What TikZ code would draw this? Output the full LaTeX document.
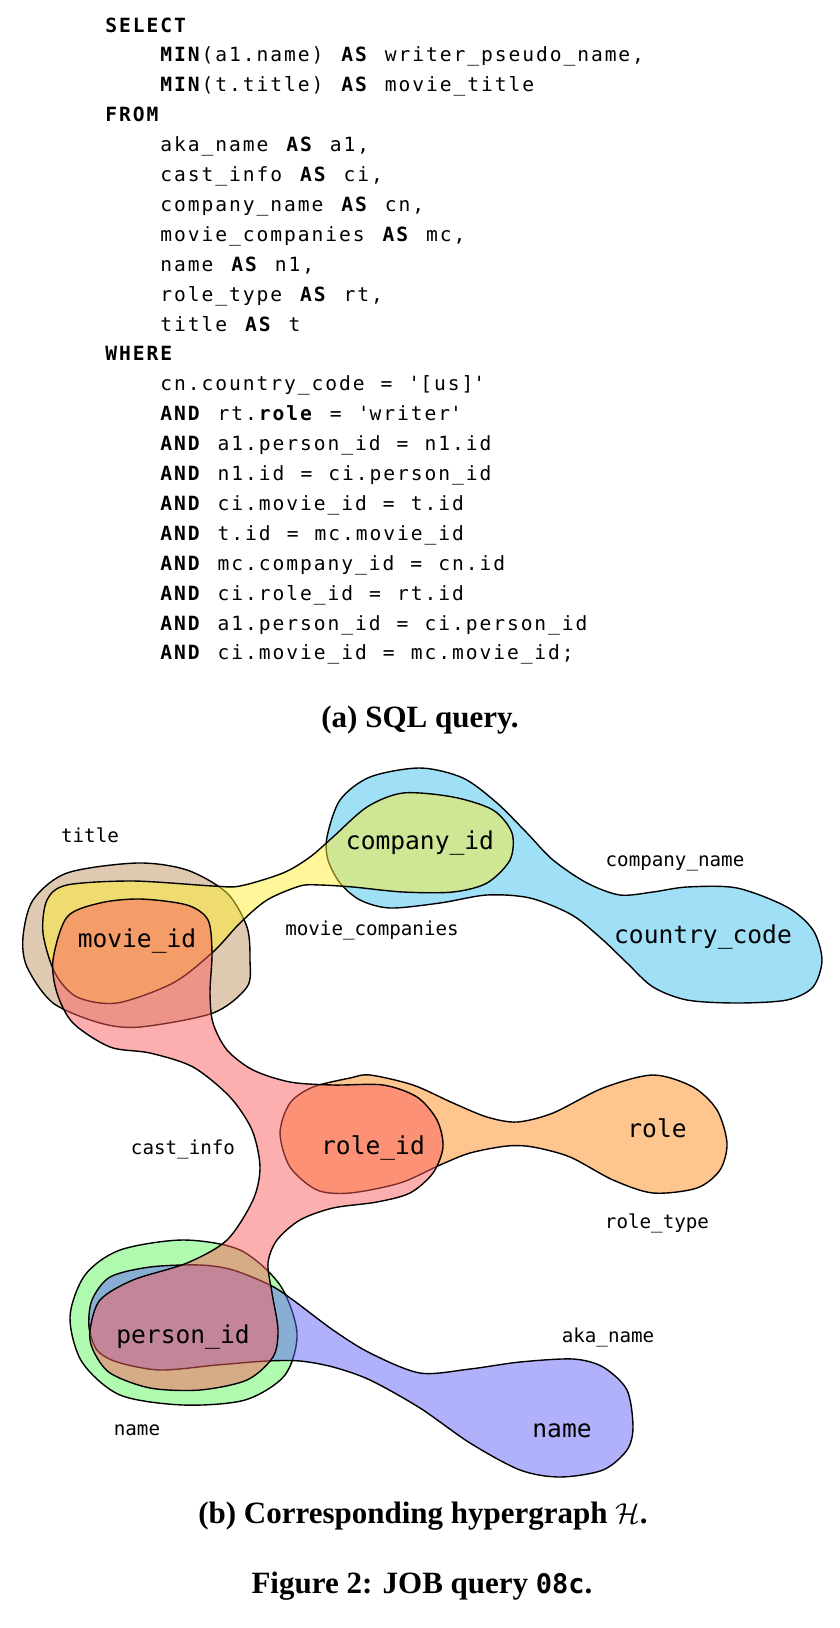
\documentclass[tikz,border=0pt]{standalone}
\usepackage{fontspec}
\setmainfont{Liberation Serif}
\newfontfamily\sqlfont[LetterSpace=9.9,WordSpace=1.17]{DejaVu Sans Mono}
\newfontfamily\hgfont{DejaVu Sans Mono}
\usepackage{xcolor}
\usepackage{tikz}
\usetikzlibrary{positioning}

\definecolor{titlecol}{RGB}{193,147,99}
\definecolor{compnamecol}{RGB}{63,193,237}
\definecolor{moviecompcol}{RGB}{255,239,51}
\definecolor{roletypecol}{RGB}{253,139,29}
\definecolor{namecol}{RGB}{99,247,99}
\definecolor{akanamecol}{RGB}{97,97,247}
\definecolor{castinfocol}{RGB}{251,95,95}

\newcommand{\kw}[1]{\textbf{#1}}
\newcommand{\sq}{\textquotesingle}

\begin{document}
\begin{tikzpicture}[
    x=0.5pt, y=-0.5pt,
    sqlline/.style={anchor=base west, inner sep=0pt, font=\sqlfont\fontsize{9.8}{12}\selectfont},
    vertex/.style={anchor=base, inner sep=0pt, font=\hgfont\fontsize{12.3}{14}\selectfont},
    edgename/.style={anchor=base, inner sep=0pt, font=\hgfont\fontsize{9.6}{11}\selectfont},
    hedge/.style={draw, line width=0.7pt, fill opacity=0.5},
    caption/.style={anchor=base, inner sep=0pt, font=\bfseries\fontsize{15.5}{18}\selectfont}
]
    \useasboundingbox (0,0) rectangle (840,1628);

    % SQL query
    \node[sqlline] (select) at (105,32) {\kw{SELECT}};
    \node[sqlline] (min1) at (160,61.9) {\kw{MIN}(a1.name) \kw{AS} writer\_pseudo\_name,};
    \node[sqlline] (min2) at (160,91.8) {\kw{MIN}(t.title) \kw{AS} movie\_title};
    \node[sqlline] (from) at (105,121.7) {\kw{FROM}};
    \node[sqlline] (from1) at (160,151.6) {aka\_name \kw{AS} a1,};
    \node[sqlline] (from2) at (160,181.5) {cast\_info \kw{AS} ci,};
    \node[sqlline] (from3) at (160,211.4) {company\_name \kw{AS} cn,};
    \node[sqlline] (from4) at (160,241.3) {movie\_companies \kw{AS} mc,};
    \node[sqlline] (from5) at (160,271.2) {name \kw{AS} n1,};
    \node[sqlline] (from6) at (160,301.1) {role\_type \kw{AS} rt,};
    \node[sqlline] (from7) at (160,331) {title \kw{AS} t};
    \node[sqlline] (where) at (105,360.9) {\kw{WHERE}};
    \node[sqlline] (where1) at (160,390.8) {cn.country\_code = \sq[us]\sq};
    \node[sqlline] (where2) at (160,420.7) {\kw{AND} rt.\kw{role} = \sq writer\sq};
    \node[sqlline] (where3) at (160,450.6) {\kw{AND} a1.person\_id = n1.id};
    \node[sqlline] (where4) at (160,480.5) {\kw{AND} n1.id = ci.person\_id};
    \node[sqlline] (where5) at (160,510.4) {\kw{AND} ci.movie\_id = t.id};
    \node[sqlline] (where6) at (160,540.3) {\kw{AND} t.id = mc.movie\_id};
    \node[sqlline] (where7) at (160,570.2) {\kw{AND} mc.company\_id = cn.id};
    \node[sqlline] (where8) at (160,600.1) {\kw{AND} ci.role\_id = rt.id};
    \node[sqlline] (where9) at (160,630) {\kw{AND} a1.person\_id = ci.person\_id};
    \node[sqlline] (where10) at (160,659.9) {\kw{AND} ci.movie\_id = mc.movie\_id;};

    \node[caption] (capa) at (420,727) {(a) SQL query.};

    % Hyperedges
    \draw[hedge, fill=titlecol] plot[smooth cycle] coordinates {
        (23,937) (33,900) (67,873) (137,863) (187,870) (227,893) (247,927)
        (250,960) (247,987) (213,1013) (140,1027) (100,1023) (53,1003) (27,967)};
    \draw[hedge, fill=compnamecol] plot[smooth cycle] coordinates {
        (327,837) (340,800) (370,777) (420,768) (463,778) (497,803) (527,833)
        (553,860) (587,883) (620,895) (653,892) (687,887) (737,888) (787,907)
        (813,930) (822,960) (813,987) (787,1000) (737,1003) (687,1000) (653,987)
        (627,963) (603,940) (572,915) (530,898) (487,895) (440,903)
        (390,908) (360,900) (340,883) (328,860)};
    \draw[hedge, fill=moviecompcol] plot[smooth cycle] coordinates {
        (43,933) (47,900) (67,885) (133,881) (213,886) (240,886) (283,873)
        (310,857) (333,837) (367,807) (403,793) (453,797) (493,810) (512,833)
        (510,860) (487,883) (453,892) (403,892) (353,887) (320,885) (300,886)
        (267,900) (240,923) (213,952) (173,983) (117,1003) (77,997) (55,973)};
    \draw[hedge, fill=roletypecol] plot[smooth cycle] coordinates {
        (313,1087) (350,1078) (370,1075) (413,1085) (453,1103) (487,1117)
        (517,1122) (553,1113) (603,1088) (653,1075) (693,1087) (717,1110)
        (727,1143) (720,1170) (697,1188) (653,1193) (613,1180) (570,1157)
        (533,1147) (507,1146) (470,1153) (440,1165) (400,1183) (350,1193)
        (317,1190) (290,1167) (280,1133) (290,1103)};
    \draw[hedge, fill=namecol] plot[smooth cycle] coordinates {
        (70,1317) (85,1275) (120,1250) (183,1240) (240,1250) (280,1285)
        (297,1333) (285,1375) (245,1400) (183,1405) (120,1395) (82,1362)};
    \draw[hedge, fill=akanamecol] plot[smooth cycle] coordinates {
        (200,1265) (150,1267) (110,1277) (92,1300) (89,1327) (97,1350)
        (117,1362) (160,1370) (217,1365) (267,1361) (300,1361) (333,1367)
        (370,1380) (420,1408) (470,1443) (520,1470) (560,1477) (603,1470)
        (627,1450) (633,1427) (627,1390) (603,1367) (573,1359) (520,1362)
        (470,1369) (420,1373) (370,1353) (333,1330) (293,1300) (270,1285)
        (233,1270)};
    \draw[hedge, fill=castinfocol] plot[smooth cycle] coordinates {
        (53,960) (67,917) (100,903) (140,899) (187,905) (208,920) (212,953)
        (210,993) (213,1023) (227,1050) (253,1070) (290,1082) (333,1085)
        (383,1085) (417,1097) (437,1120) (443,1147) (433,1173) (410,1193)
        (377,1202) (333,1208) (300,1220) (277,1240) (268,1263) (272,1293)
        (278,1330) (273,1357) (247,1380) (200,1390) (150,1388) (110,1373)
        (93,1350) (90,1330) (100,1300) (133,1280) (187,1263) (227,1240)
        (253,1200) (260,1167) (252,1130) (230,1097) (193,1067) (150,1053)
        (110,1047) (73,1023) (57,993)};

    % Vertices
    \node[vertex] (movieid) at (137,947) {movie\_id};
    \node[vertex] (companyid) at (420,849) {company\_id};
    \node[vertex] (countrycode) at (703,943) {country\_code};
    \node[vertex] (roleid) at (373,1154) {role\_id};
    \node[vertex] (role) at (657,1137) {role};
    \node[vertex] (personid) at (183,1343) {person\_id};
    \node[vertex] (akname) at (562,1437) {name};

    % Hyperedge names
    \node[edgename] (title) at (90,842) {title};
    \node[edgename] (moviecompanies) at (372,935) {movie\_companies};
    \node[edgename] (companyname) at (675,866) {company\_name};
    \node[edgename] (castinfo) at (183,1154) {cast\_info};
    \node[edgename] (roletype) at (657,1228) {role\_type};
    \node[edgename] (akaname) at (608,1342) {aka\_name};
    \node[edgename] (name) at (137,1435) {name};

    \node[caption] (capb) at (423,1523) {(b) Corresponding hypergraph $\mathcal{H}$.};
    \node[caption] (fig) at (422,1593) {Figure 2: JOB query {\hgfont\fontsize{13.5}{16}\selectfont 08c}.};
\end{tikzpicture}
\end{document}
